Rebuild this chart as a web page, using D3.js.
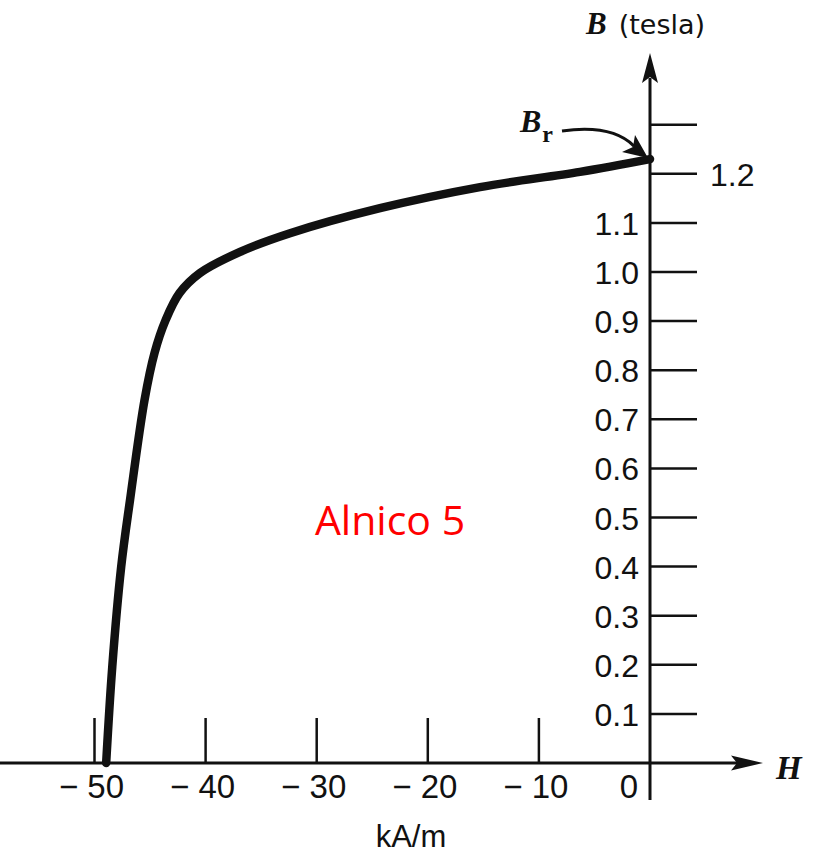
<!DOCTYPE html>
<html>
<head>
<meta charset="utf-8">
<script src="https://cdn.jsdelivr.net/npm/d3@7"></script>
<style>
  body { margin: 0; background: #fff; }
  svg { display: block; }
</style>
</head>
<body>
<div id="chart"></div>
<script>
// demagnetization curve of Alnico 5
const hValues = [-48.95, -48.4, -47.6, -46.8, -45.5, -44.6, -43.6, -42.35, -40.5, -36.9, -32.4, -24.3, -15.3, -6.3, 0];
const bValues = [0, 0.196, 0.399, 0.536, 0.739, 0.835, 0.902, 0.957, 0.998, 1.041, 1.079, 1.130, 1.173, 1.204, 1.23];

const hTicks = [-50, -40, -30, -20, -10];
const bTicks = [0.1, 0.2, 0.3, 0.4, 0.5, 0.6, 0.7, 0.8, 0.9, 1.0, 1.1, 1.2, 1.3];
const bLabelsLeft = ["0.1", "0.2", "0.3", "0.4", "0.5", "0.6", "0.7", "0.8", "0.9", "1.0", "1.1"];
const materialName = "Alnico 5";

const width = 823, height = 854;

const x = d3.scaleLinear().domain([-50, 0]).range([94.5, 650]);
const y = d3.scaleLinear().domain([0, 1]).range([763, 272]);

const svg = d3.select("#chart").append("svg")
  .attr("width", width)
  .attr("height", height);

const labelFont = "'Liberation Sans', Arial, sans-serif";
const serifFont = "'Liberation Serif', 'Times New Roman', serif";

// x axis line + arrow
svg.append("line")
  .attr("x1", 0).attr("x2", 738)
  .attr("y1", y(0)).attr("y2", y(0))
  .attr("stroke", "#111").attr("stroke-width", 3);
svg.append("path")
  .attr("d", `M763,${y(0)} L731,${y(0) - 7.5} L737,${y(0)} L731,${y(0) + 7.5} Z`)
  .attr("fill", "#111");

// y axis line + arrow
svg.append("line")
  .attr("x1", x(0)).attr("x2", x(0))
  .attr("y1", 78).attr("y2", 800)
  .attr("stroke", "#111").attr("stroke-width", 3);
svg.append("path")
  .attr("d", `M${x(0)},53 L${x(0) - 8},83 L${x(0)},77 L${x(0) + 8},83 Z`)
  .attr("fill", "#111");

// x ticks (pointing up)
svg.append("g")
  .selectAll("line")
  .data(hTicks)
  .join("line")
  .attr("x1", d => x(d)).attr("x2", d => x(d))
  .attr("y1", y(0)).attr("y2", y(0) - 45)
  .attr("stroke", "#111").attr("stroke-width", 2.5);

svg.append("g")
  .selectAll("text")
  .data(hTicks.concat([0]))
  .join("text")
  .attr("x", d => d === 0 ? x(d) - 21 : x(d) - 3)
  .attr("y", 798)
  .attr("text-anchor", "middle")
  .attr("font-family", labelFont)
  .attr("font-size", 33)
  .attr("fill", "#111")
  .text(d => d === 0 ? "0" : "\u2212 " + Math.abs(d));

// y ticks (pointing right)
svg.append("g")
  .selectAll("line")
  .data(bTicks)
  .join("line")
  .attr("x1", x(0)).attr("x2", x(0) + 47)
  .attr("y1", d => y(d)).attr("y2", d => y(d))
  .attr("stroke", "#111").attr("stroke-width", 2.5);

svg.append("g")
  .selectAll("text")
  .data(bLabelsLeft)
  .join("text")
  .attr("x", 639)
  .attr("y", d => y(+d) + 12)
  .attr("text-anchor", "end")
  .attr("font-family", labelFont)
  .attr("font-size", 32)
  .attr("fill", "#111")
  .text(d => d);

svg.append("text")
  .attr("x", 710)
  .attr("y", y(1.2) + 12)
  .attr("font-family", labelFont)
  .attr("font-size", 32)
  .attr("fill", "#111")
  .text("1.2");

// axis titles
svg.append("text")
  .attr("x", 776).attr("y", 779)
  .attr("font-family", serifFont)
  .attr("font-weight", "bold").attr("font-style", "italic")
  .attr("font-size", 33)
  .attr("fill", "#111")
  .text("H");

svg.append("text")
  .attr("x", 411).attr("y", 847)
  .attr("text-anchor", "middle")
  .attr("font-family", labelFont)
  .attr("font-size", 31)
  .attr("fill", "#111")
  .text("kA/m");

const bTitle = svg.append("text")
  .attr("x", 586).attr("y", 34)
  .attr("fill", "#111");
bTitle.append("tspan")
  .attr("font-family", serifFont)
  .attr("font-weight", "bold").attr("font-style", "italic")
  .attr("font-size", 31)
  .text("B");
bTitle.append("tspan")
  .attr("dx", 12)
  .attr("font-family", "'DejaVu Sans', sans-serif")
  .attr("font-size", 27)
  .text("(tesla)");

// the curve
const pts = hValues.map((h, i) => [h, bValues[i]]);
const line = d3.line()
  .x(d => x(d[0]))
  .y(d => y(d[1]))
  .curve(d3.curveCatmullRom.alpha(0.5));

svg.append("path")
  .datum(pts)
  .attr("d", line)
  .attr("fill", "none")
  .attr("stroke", "#111")
  .attr("stroke-width", 8.5)
  .attr("stroke-linecap", "round");

// Br annotation
const br = svg.append("text")
  .attr("x", 520).attr("y", 132)
  .attr("fill", "#111")
  .attr("font-family", serifFont)
  .attr("font-weight", "bold");
br.append("tspan")
  .attr("font-style", "italic")
  .attr("font-size", 32)
  .text("B");
br.append("tspan")
  .attr("dy", 10)
  .attr("dx", 1)
  .attr("font-size", 24)
  .text("r");

const brTip = [x(0) - 2, y(bValues[bValues.length - 1]) - 1];
svg.append("path")
  .attr("d", `M562,131 Q612,124 ${brTip[0] - 14},${brTip[1] - 12}`)
  .attr("fill", "none")
  .attr("stroke", "#111")
  .attr("stroke-width", 3);
svg.append("path")
  .attr("d", `M${brTip[0]},${brTip[1]} L${brTip[0] - 26},${brTip[1] - 6} L${brTip[0] - 15},${brTip[1] - 11} L${brTip[0] - 13},${brTip[1] - 23} Z`)
  .attr("fill", "#111");

// material name
svg.append("text")
  .attr("x", 390).attr("y", 535)
  .attr("text-anchor", "middle")
  .attr("font-family", "'Open Sans', 'Noto Sans', sans-serif")
  .attr("font-size", 41)
  .attr("fill", "#ff0000")
  .text(materialName);
</script>
</body>
</html>
